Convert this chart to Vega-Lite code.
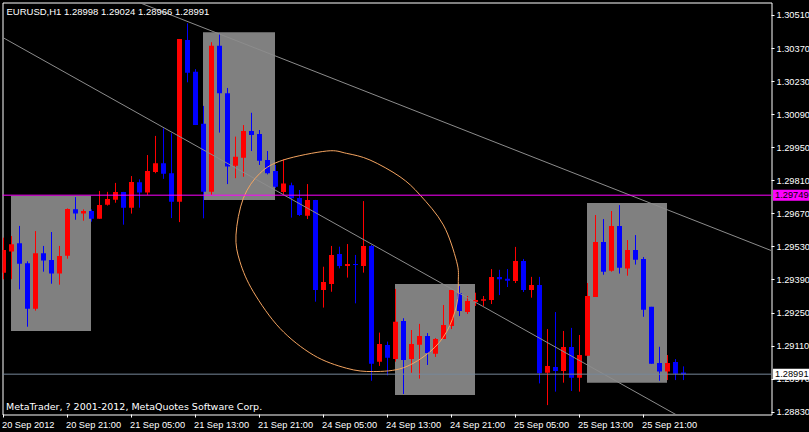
{
  "$schema": "https://vega.github.io/schema/vega-lite/v6.json",
  "width": 769,
  "height": 412,
  "autosize": {"type": "none"},
  "padding": {"left": 2.5, "top": 2.5, "right": 37.5, "bottom": 17.5},
  "background": "#000000",
  "config": {
    "font": "Liberation Sans",
    "view": {"stroke": "#ffffff", "strokeWidth": 1},
    "scale": {"continuousPadding": 0},
    "axis": {"grid": false, "domain": false, "labelColor": "#ffffff", "tickColor": "#ffffff", "labelFont": "Liberation Sans", "labelFontSize": 9.25, "titleColor": "#ffffff", "titleFont": "DejaVu Sans", "titleFontSize": 9.5, "titleFontWeight": "normal", "translate": 0, "labelOverlap": false}
  },
  "title": {"text": "EURUSD,H1  1.28998 1.29024 1.28966 1.28991", "anchor": "start", "frame": "group", "baseline": "top", "offset": -4, "dx": 4, "dy": 10, "color": "#ffffff", "fontSize": 9.5, "fontWeight": "normal", "font": "Liberation Sans"},
  "datasets": {
    "candles": [
      {"k":0,"o":1.29421,"h":1.29569,"l":1.29393,"c":1.29517},
      {"k":1,"o":1.29510,"h":1.29576,"l":1.29393,"c":1.29541},
      {"k":2,"o":1.29545,"h":1.29619,"l":1.29350,"c":1.29459},
      {"k":3,"o":1.29461,"h":1.29469,"l":1.29192,"c":1.29268},
      {"k":4,"o":1.29268,"h":1.29597,"l":1.29260,"c":1.29503},
      {"k":5,"o":1.29503,"h":1.29534,"l":1.29425,"c":1.29472},
      {"k":6,"o":1.29475,"h":1.29593,"l":1.29374,"c":1.29417},
      {"k":7,"o":1.29417,"h":1.29534,"l":1.29370,"c":1.29491},
      {"k":8,"o":1.29493,"h":1.29693,"l":1.29480,"c":1.29691},
      {"k":9,"o":1.29689,"h":1.29741,"l":1.29645,"c":1.29671},
      {"k":10,"o":1.29671,"h":1.29689,"l":1.29641,"c":1.29682},
      {"k":11,"o":1.29682,"h":1.29689,"l":1.29637,"c":1.29649},
      {"k":12,"o":1.29649,"h":1.29767,"l":1.29649,"c":1.29707},
      {"k":13,"o":1.29709,"h":1.29763,"l":1.29705,"c":1.29733},
      {"k":14,"o":1.29730,"h":1.29801,"l":1.29717,"c":1.29763},
      {"k":15,"o":1.29763,"h":1.29763,"l":1.29624,"c":1.29696},
      {"k":16,"o":1.29696,"h":1.29830,"l":1.29671,"c":1.29805},
      {"k":17,"o":1.29804,"h":1.29816,"l":1.29696,"c":1.29760},
      {"k":18,"o":1.29760,"h":1.29919,"l":1.29750,"c":1.29851},
      {"k":19,"o":1.29847,"h":1.30000,"l":1.29842,"c":1.29884},
      {"k":20,"o":1.29884,"h":1.30032,"l":1.29818,"c":1.29840},
      {"k":21,"o":1.29842,"h":1.30011,"l":1.29652,"c":1.29721},
      {"k":22,"o":1.29721,"h":1.30410,"l":1.29635,"c":1.30410},
      {"k":23,"o":1.30406,"h":1.30477,"l":1.30227,"c":1.30268},
      {"k":24,"o":1.30272,"h":1.30283,"l":1.30046,"c":1.30046},
      {"k":25,"o":1.30051,"h":1.30127,"l":1.29651,"c":1.29764},
      {"k":26,"o":1.29764,"h":1.30397,"l":1.29750,"c":1.30382},
      {"k":27,"o":1.30382,"h":1.30432,"l":1.30014,"c":1.30181},
      {"k":28,"o":1.30181,"h":1.30203,"l":1.29796,"c":1.29870},
      {"k":29,"o":1.29874,"h":1.29997,"l":1.29821,"c":1.29912},
      {"k":30,"o":1.29908,"h":1.30046,"l":1.29827,"c":1.30021},
      {"k":31,"o":1.30021,"h":1.30098,"l":1.29936,"c":1.30004},
      {"k":32,"o":1.30008,"h":1.30025,"l":1.29877,"c":1.29895},
      {"k":33,"o":1.29898,"h":1.29936,"l":1.29837,"c":1.29842},
      {"k":34,"o":1.29851,"h":1.29877,"l":1.29779,"c":1.29785},
      {"k":35,"o":1.29763,"h":1.29901,"l":1.29754,"c":1.29798},
      {"k":36,"o":1.29791,"h":1.29802,"l":1.29654,"c":1.29736},
      {"k":37,"o":1.29737,"h":1.29771,"l":1.29661,"c":1.29665},
      {"k":38,"o":1.29662,"h":1.29796,"l":1.29648,"c":1.29729},
      {"k":39,"o":1.29729,"h":1.29729,"l":1.29298,"c":1.29347},
      {"k":40,"o":1.29347,"h":1.29446,"l":1.29273,"c":1.29381},
      {"k":41,"o":1.29373,"h":1.29534,"l":1.29340,"c":1.29496},
      {"k":42,"o":1.29500,"h":1.29531,"l":1.29439,"c":1.29449},
      {"k":43,"o":1.29449,"h":1.29542,"l":1.29400,"c":1.29458},
      {"k":44,"o":1.29458,"h":1.29496,"l":1.29291,"c":1.29453},
      {"k":45,"o":1.29449,"h":1.29724,"l":1.29421,"c":1.29534},
      {"k":46,"o":1.29534,"h":1.29538,"l":1.28963,"c":1.29035},
      {"k":47,"o":1.29044,"h":1.29167,"l":1.29026,"c":1.29119},
      {"k":48,"o":1.29115,"h":1.29129,"l":1.28986,"c":1.29061},
      {"k":49,"o":1.29055,"h":1.29352,"l":1.29044,"c":1.29213},
      {"k":50,"o":1.29216,"h":1.29228,"l":1.28907,"c":1.29051},
      {"k":51,"o":1.29055,"h":1.29178,"l":1.28997,"c":1.29119},
      {"k":52,"o":1.29116,"h":1.29204,"l":1.28972,"c":1.29153},
      {"k":53,"o":1.29153,"h":1.29165,"l":1.29030,"c":1.29081},
      {"k":54,"o":1.29078,"h":1.29144,"l":1.29064,"c":1.29140},
      {"k":55,"o":1.29140,"h":1.29284,"l":1.29140,"c":1.29199},
      {"k":56,"o":1.29195,"h":1.29347,"l":1.29182,"c":1.29347},
      {"k":57,"o":1.29334,"h":1.29364,"l":1.29237,"c":1.29259},
      {"k":58,"o":1.29254,"h":1.29322,"l":1.29246,"c":1.29301},
      {"k":59,"o":1.29297,"h":1.29336,"l":1.29280,"c":1.29305},
      {"k":60,"o":1.29302,"h":1.29322,"l":1.29280,"c":1.29308},
      {"k":61,"o":1.29305,"h":1.29436,"l":1.29288,"c":1.29403},
      {"k":62,"o":1.29403,"h":1.29433,"l":1.29326,"c":1.29393},
      {"k":63,"o":1.29395,"h":1.29436,"l":1.29360,"c":1.29387},
      {"k":64,"o":1.29386,"h":1.29530,"l":1.29377,"c":1.29470},
      {"k":65,"o":1.29470,"h":1.29479,"l":1.29339,"c":1.29347},
      {"k":66,"o":1.29347,"h":1.29403,"l":1.29315,"c":1.29369},
      {"k":67,"o":1.29369,"h":1.29403,"l":1.28952,"c":1.28995},
      {"k":68,"o":1.28997,"h":1.29182,"l":1.28860,"c":1.29026},
      {"k":69,"o":1.29021,"h":1.29254,"l":1.28917,"c":1.29004},
      {"k":70,"o":1.29004,"h":1.29174,"l":1.28955,"c":1.29106},
      {"k":71,"o":1.29106,"h":1.29187,"l":1.28920,"c":1.28976},
      {"k":72,"o":1.28976,"h":1.29157,"l":1.28917,"c":1.29072},
      {"k":73,"o":1.29069,"h":1.29377,"l":1.29069,"c":1.29322},
      {"k":74,"o":1.29318,"h":1.29665,"l":1.29318,"c":1.29551},
      {"k":75,"o":1.29551,"h":1.29648,"l":1.29412,"c":1.29425},
      {"k":76,"o":1.29429,"h":1.29682,"l":1.29425,"c":1.29619},
      {"k":77,"o":1.29619,"h":1.29707,"l":1.29417,"c":1.29442},
      {"k":78,"o":1.29438,"h":1.29559,"l":1.29408,"c":1.29517},
      {"k":79,"o":1.29517,"h":1.29580,"l":1.29455,"c":1.29476},
      {"k":80,"o":1.29479,"h":1.29487,"l":1.29234,"c":1.29264},
      {"k":81,"o":1.29276,"h":1.29276,"l":1.29035,"c":1.29035},
      {"k":82,"o":1.29038,"h":1.29107,"l":1.28963,"c":1.29002},
      {"k":83,"o":1.29002,"h":1.29072,"l":1.28966,"c":1.29038},
      {"k":84,"o":1.29043,"h":1.29055,"l":1.28966,"c":1.28993},
      {"k":85,"o":1.28998,"h":1.29024,"l":1.28966,"c":1.28991}
    ],
    "boxes": [
      {"k1":1,"k2":11,"p1":1.29747,"p2":1.29174},
      {"k1":25,"k2":34,"p1":1.30439,"p2":1.29729},
      {"k1":49,"k2":59,"p1":1.29373,"p2":1.28903},
      {"k1":73,"k2":83,"p1":1.29716,"p2":1.28955}
    ],
    "trend": [
      {"id":"A","k":0,"p":1.30415},
      {"id":"A","k":86,"p":1.28783},
      {"id":"B","k":15,"p":1.30591},
      {"id":"B","k":96,"p":1.29514}
    ],
    "ellipse": [
      {"i":1,"k":40.40,"p":1.29936},
      {"i":2,"k":42.90,"p":1.29926},
      {"i":3,"k":45.81,"p":1.29898},
      {"i":4,"k":49.56,"p":1.29827},
      {"i":5,"k":52.06,"p":1.29750},
      {"i":6,"k":54.98,"p":1.29623},
      {"i":7,"k":56.65,"p":1.29467},
      {"i":8,"k":56.85,"p":1.29383},
      {"i":9,"k":56.65,"p":1.29284},
      {"i":10,"k":55.40,"p":1.29171},
      {"i":11,"k":53.31,"p":1.29086},
      {"i":12,"k":49.98,"p":1.29018},
      {"i":13,"k":46.23,"p":1.29002},
      {"i":14,"k":42.90,"p":1.29016},
      {"i":15,"k":38.73,"p":1.29072},
      {"i":16,"k":34.56,"p":1.29185},
      {"i":17,"k":31.23,"p":1.29340},
      {"i":18,"k":29.56,"p":1.29467},
      {"i":19,"k":29.06,"p":1.29580},
      {"i":20,"k":29.98,"p":1.29736},
      {"i":21,"k":32.06,"p":1.29842},
      {"i":22,"k":34.98,"p":1.29898}
    ],
    "levels": [
      {"name":"alert","p":1.29749},
      {"name":"bid","p":1.28991}
    ]
  },
  "layer": [
    {
      "data": {"name": "boxes"},
      "mark": {"type": "rect", "color": "#808080", "xOffset": -0.5, "x2Offset": -0.5, "clip": true},
      "encoding": {
        "x": {"field": "k1", "type": "quantitative", "scale": {"domain": [-0.125, 96], "nice": false, "zero": false, "padding": 0},
          "axis": {"values": [0, 8, 16, 24, 32, 40, 48, 56, 64, 72, 80], "tickCount": 40,
            "labelExpr": "datum.value == 0 ? '20 Sep 2012' : datum.value == 8 ? '20 Sep 21:00' : datum.value == 16 ? '21 Sep 05:00' : datum.value == 24 ? '21 Sep 13:00' : datum.value == 32 ? '21 Sep 21:00' : datum.value == 40 ? '24 Sep 05:00' : datum.value == 48 ? '24 Sep 13:00' : datum.value == 56 ? '24 Sep 21:00' : datum.value == 64 ? '25 Sep 05:00' : datum.value == 72 ? '25 Sep 13:00' : '25 Sep 21:00'",
            "labelAlign": "left", "labelBaseline": "alphabetic", "labelPadding": 10.5, "labelOffset": -1.5, "tickSize": 3,
            "labelOverlap": false, "labelFlush": false, "labelBound": false,
            "title": "MetaTrader, ? 2001-2012, MetaQuotes Software Corp.", "titleX": 3.5, "titleY": -4.5, "titleAlign": "left", "titleAnchor": "start", "titleBaseline": "alphabetic"}},
        "x2": {"field": "k2"},
        "y": {"field": "p1", "type": "quantitative", "scale": {"domain": [1.288202, 1.30565], "nice": false, "zero": false, "padding": 0},
          "axis": {"orient": "right", "values": [1.2883, 1.2897, 1.2911, 1.2925, 1.2939, 1.2953, 1.2967, 1.2981, 1.2995, 1.3009, 1.3023, 1.3037, 1.3051], "tickCount": 40,
            "format": ".5f", "tickSize": 3, "labelPadding": 2, "labelOverlap": false, "labelFlush": false, "labelBound": false, "title": null}},
        "y2": {"field": "p2"}
      }
    },
    {
      "data": {"name": "candles"},
      "mark": {"type": "rule", "strokeWidth": 1, "clip": true},
      "encoding": {
        "x": {"field": "k", "type": "quantitative"},
        "y": {"field": "l", "type": "quantitative"},
        "y2": {"field": "h"},
        "color": {"condition": {"test": "datum.c > datum.o", "value": "#ff0000"}, "value": "#0000ff"}
      }
    },
    {
      "data": {"name": "candles"},
      "mark": {"type": "bar", "size": 5, "clip": true},
      "encoding": {
        "x": {"field": "k", "type": "quantitative"},
        "y": {"field": "o", "type": "quantitative"},
        "y2": {"field": "c"},
        "color": {"condition": {"test": "datum.c > datum.o", "value": "#ff0000"}, "value": "#0000ff"}
      }
    },
    {
      "data": {"name": "trend"},
      "mark": {"type": "line", "color": "#8c8c8c", "strokeWidth": 1, "clip": true},
      "encoding": {
        "x": {"field": "k", "type": "quantitative"},
        "y": {"field": "p", "type": "quantitative"},
        "detail": {"field": "id"}
      }
    },
    {
      "data": {"name": "ellipse"},
      "mark": {"type": "line", "interpolate": "cardinal-closed", "color": "#f4a460", "strokeWidth": 1, "clip": true},
      "encoding": {
        "x": {"field": "k", "type": "quantitative"},
        "y": {"field": "p", "type": "quantitative"},
        "order": {"field": "i", "type": "quantitative"}
      }
    },
    {
      "data": {"name": "levels"},
      "transform": [{"filter": "datum.name == 'alert'"}],
      "mark": {"type": "rule", "color": "#ff00ff", "strokeWidth": 1},
      "encoding": {
        "y": {"field": "p", "type": "quantitative"}
      }
    },
    {
      "data": {"name": "levels"},
      "transform": [{"filter": "datum.name == 'bid'"}],
      "mark": {"type": "rule", "color": "#778899", "strokeWidth": 1},
      "encoding": {
        "y": {"field": "p", "type": "quantitative"}
      }
    },
    {
      "data": {"name": "levels"},
      "transform": [{"filter": "datum.name == 'alert'"}],
      "mark": {"type": "bar", "color": "#ff00ff", "size": 11, "orient": "horizontal"},
      "encoding": {
        "x": {"datum": 96.19, "type": "quantitative"},
        "x2": {"datum": 100.7},
        "y": {"field": "p", "type": "quantitative"}
      }
    },
    {
      "data": {"name": "levels"},
      "transform": [{"filter": "datum.name == 'bid'"}],
      "mark": {"type": "bar", "color": "#ffffff", "size": 11, "orient": "horizontal"},
      "encoding": {
        "x": {"datum": 96.19, "type": "quantitative"},
        "x2": {"datum": 100.7},
        "y": {"field": "p", "type": "quantitative"}
      }
    },
    {
      "data": {"name": "levels"},
      "mark": {"type": "text", "color": "#000000", "align": "left", "baseline": "middle", "font": "Liberation Sans", "fontSize": 9.25},
      "encoding": {
        "x": {"datum": 96.45, "type": "quantitative"},
        "y": {"field": "p", "type": "quantitative"},
        "text": {"field": "p", "type": "quantitative", "format": ".5f"}
      }
    }
  ]
}
